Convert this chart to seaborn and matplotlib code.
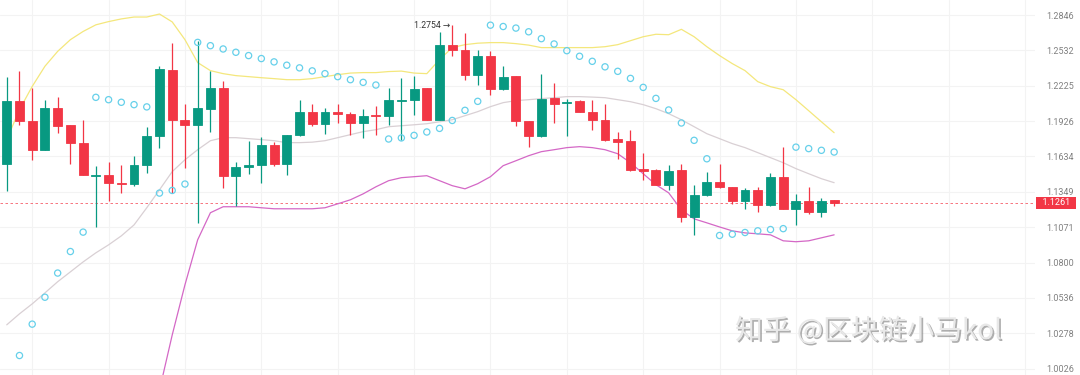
import numpy as np
import pandas as pd
import matplotlib
matplotlib.use('Agg')
import matplotlib.pyplot as plt
import matplotlib.patheffects as pe
from matplotlib.ticker import FixedLocator, FixedFormatter, NullLocator
import seaborn as sns

# daily candles
opens = [1.1573, 1.2098, 1.1929, 1.1687, 1.2036, 1.1890, 1.1744, 1.1474, 1.1481, 1.1419,
         1.1414, 1.1565, 1.1805, 1.2364, 1.1937, 1.1895, 1.2030, 1.2206, 1.1473, 1.1551,
         1.1561, 1.1730, 1.1575, 1.1807, 1.2005, 1.1901, 1.1999, 1.1985, 1.1914, 1.1977,
         1.1965, 1.2095, 1.2104, 1.2202, 1.1937, 1.2582, 1.2538, 1.2315, 1.2480, 1.2197,
         1.2306, 1.1923, 1.1805, 1.2117, 1.2078, 1.2092, 1.2002, 1.1937, 1.1777, 1.1758,
         1.1529, 1.1527, 1.1406, 1.1521, 1.1154, 1.1320, 1.1430, 1.1387, 1.1278, 1.1365,
         1.1241, 1.1465, 1.1213, 1.1280, 1.1191, 1.1283]
highs = [1.2301, 1.2349, 1.2206, 1.2100, 1.2126, 1.1890, 1.1931, 1.1553, 1.1586, 1.1567,
         1.1634, 1.1873, 1.2399, 1.2597, 1.2070, 1.2611, 1.2349, 1.2262, 1.1586, 1.1758,
         1.1794, 1.1750, 1.1812, 1.2106, 1.2073, 1.2036, 1.2073, 1.1999, 1.2028, 1.2050,
         1.2206, 1.2292, 1.2312, 1.2205, 1.2690, 1.2754, 1.2685, 1.2538, 1.2523, 1.2399,
         1.2308, 1.1925, 1.2327, 1.2248, 1.2115, 1.2106, 1.2106, 1.2073, 1.1832, 1.1848,
         1.1662, 1.1530, 1.1561, 1.1575, 1.1400, 1.1511, 1.1575, 1.1389, 1.1379, 1.1384,
         1.1500, 1.1711, 1.1333, 1.1384, 1.1299, 1.1285]
lows = [1.1352, 1.1895, 1.1602, 1.1685, 1.1827, 1.1575, 1.1481, 1.1076, 1.1280, 1.1339,
        1.1392, 1.1500, 1.1703, 1.1339, 1.1540, 1.1102, 1.1832, 1.1379, 1.1233, 1.1494,
        1.1419, 1.1553, 1.1486, 1.1805, 1.1881, 1.1819, 1.1910, 1.1813, 1.1786, 1.1807,
        1.1895, 1.1772, 1.1973, 1.1935, 1.1935, 1.2480, 1.2277, 1.2234, 1.2143, 1.2191,
        1.1887, 1.1708, 1.1794, 1.1910, 1.1799, 1.2000, 1.1854, 1.1758, 1.1613, 1.1513,
        1.1446, 1.1404, 1.1360, 1.1115, 1.1012, 1.1318, 1.1379, 1.1254, 1.1213, 1.1186,
        1.1233, 1.1211, 1.1089, 1.1173, 1.1150, 1.1238]
closes = [1.2092, 1.1923, 1.1683, 1.2036, 1.1887, 1.1741, 1.1481, 1.1482, 1.1416, 1.1408,
          1.1567, 1.1805, 1.2370, 1.1931, 1.1895, 1.2036, 1.2206, 1.1473, 1.1548, 1.1567,
          1.1730, 1.1575, 1.1810, 1.2005, 1.1901, 1.1999, 1.1988, 1.1914, 1.1971, 1.1965,
          1.2100, 1.2104, 1.2200, 1.1937, 1.2582, 1.2538, 1.2321, 1.2480, 1.2200, 1.2297,
          1.1926, 1.1805, 1.2115, 1.2073, 1.2089, 1.2002, 1.1931, 1.1772, 1.1749, 1.1527,
          1.1519, 1.1406, 1.1513, 1.1154, 1.1320, 1.1430, 1.1387, 1.1278, 1.1365, 1.1247,
          1.1465, 1.1213, 1.1280, 1.1191, 1.1280, 1.1261]

# bollinger bands
bb_upper = [1.1772, 1.2022, 1.2219, 1.2393, 1.2523, 1.2626, 1.2699, 1.2758, 1.2787, 1.2811,
            1.2828, 1.2828, 1.2855, 1.2784, 1.2626, 1.2425, 1.2355, 1.2329, 1.2312, 1.2303,
            1.2294, 1.2286, 1.2277, 1.2277, 1.2286, 1.2303, 1.2320, 1.2334, 1.2338, 1.2338,
            1.2347, 1.2351, 1.2334, 1.2329, 1.2451, 1.2556, 1.2582, 1.2595, 1.2600, 1.2600,
            1.2591, 1.2578, 1.2556, 1.2556, 1.2556, 1.2556, 1.2556, 1.2564, 1.2582, 1.2617,
            1.2652, 1.2674, 1.2670, 1.2718, 1.2652, 1.2564, 1.2486, 1.2416, 1.2355, 1.2260,
            1.2217, 1.2191, 1.2106, 1.2013, 1.1920, 1.1829]
bb_mid = [1.0339, 1.0419, 1.0492, 1.0573, 1.0656, 1.0730, 1.0805, 1.0874, 1.0935, 1.1004,
          1.1089, 1.1223, 1.1365, 1.1511, 1.1607, 1.1689, 1.1763, 1.1788, 1.1788, 1.1780,
          1.1772, 1.1763, 1.1747, 1.1747, 1.1751, 1.1763, 1.1788, 1.1813, 1.1838, 1.1854,
          1.1879, 1.1887, 1.1895, 1.1904, 1.1920, 1.1937, 1.1971, 1.2005, 1.2047, 1.2081,
          1.2098, 1.2106, 1.2115, 1.2123, 1.2132, 1.2132, 1.2128, 1.2123, 1.2106, 1.2089,
          1.2064, 1.2030, 1.1988, 1.1937, 1.1879, 1.1821, 1.1780, 1.1739, 1.1706, 1.1665,
          1.1624, 1.1583, 1.1535, 1.1494, 1.1454, 1.1422]
bb_lower = [np.nan] * 12 + [
    0.9877, 1.0266, 1.0633, 1.0974, 1.1184, 1.1231, 1.1231, 1.1231,
    1.1223, 1.1215, 1.1215, 1.1215, 1.1215, 1.1223, 1.1254, 1.1286, 1.1333, 1.1389,
    1.1438, 1.1462, 1.1470, 1.1478, 1.1438, 1.1398, 1.1373, 1.1414, 1.1470, 1.1559,
    1.1599, 1.1640, 1.1673, 1.1689, 1.1706, 1.1714, 1.1706, 1.1689, 1.1656, 1.1583,
    1.1494, 1.1406, 1.1341, 1.1207, 1.1136, 1.1105, 1.1073, 1.1043, 1.1027, 1.1020,
    1.1012, 1.0966, 1.0959, 1.0966, 1.0989, 1.1012]

# parabolic SAR
sar = [np.nan, 1.0119, 1.0344, 1.0541, 1.0721, 1.0884, 1.1033, 1.2126, 1.2106, 1.2084,
       1.2064, 1.2045, 1.1339, 1.1360, 1.1411, 1.2602, 1.2573, 1.2544, 1.2515, 1.2486,
       1.2460, 1.2431, 1.2402, 1.2379, 1.2353, 1.2329, 1.2303, 1.2277, 1.2254, 1.2231,
       1.1777, 1.1786, 1.1807, 1.1835, 1.1865, 1.1931, 1.2016, 1.2092, 1.2755, 1.2743,
       1.2729, 1.2696, 1.2635, 1.2588, 1.2529, 1.2480, 1.2436, 1.2388, 1.2349, 1.2288,
       1.2211, 1.2117, 1.2019, 1.1910, 1.1766, 1.1615, 1.1007, 1.1017, 1.1030, 1.1043,
       1.1053, 1.1060, 1.1710, 1.1698, 1.1684, 1.1670]

y_ticks = [1.0026, 1.0278, 1.0536, 1.0800, 1.1071, 1.1349, 1.1634, 1.1926, 1.2225, 1.2532, 1.2846]
y_labels = ['1.0026', '1.0278', '1.0536', '1.0800', '1.1071', '1.1349', '1.1634', '1.1926',
            '1.2225', '1.2532', '1.2846']
last_price = 1.1261
peak_price = 1.2754
peak_idx = 35
watermark = '知乎 @区块链小马kol'

df = pd.DataFrame({'open': opens, 'high': highs, 'low': lows, 'close': closes,
                   'upper': bb_upper, 'mid': bb_mid, 'lower': bb_lower, 'sar': sar})
df['t'] = np.arange(len(df))

green, red = '#089981', '#f23645'

sns.set_style('white')
plt.rcParams['font.family'] = ['Roboto', 'DejaVu Sans']

fig = plt.figure(figsize=(10.8, 3.75), dpi=100)
ax = fig.add_axes([0, 0, 1035 / 1080, 1])
ax.set_yscale('log')

# candles
cols = np.where(df['close'] >= df['open'], green, red)
ax.vlines(df['t'], df['low'], df['high'], colors=cols, linewidth=0.9, zorder=3)
lo = df[['open', 'close']].min(axis=1)
hi = df[['open', 'close']].max(axis=1)
ax.bar(df['t'], hi - lo, bottom=lo, width=0.7, color=cols, edgecolor=cols,
       linewidth=0.6, zorder=4)

# bands
sns.lineplot(data=df, x='t', y='upper', ax=ax, color='#f4e77c', linewidth=0.9,
             estimator=None, errorbar=None, zorder=2)
sns.lineplot(data=df, x='t', y='mid', ax=ax, color='#d9d0d4', linewidth=0.9,
             estimator=None, errorbar=None, zorder=2)
sns.lineplot(data=df, x='t', y='lower', ax=ax, color='#d468c6', linewidth=0.9,
             estimator=None, errorbar=None, zorder=2)

# SAR dots
sns.scatterplot(data=df, x='t', y='sar', ax=ax, marker='o', s=20, facecolor='none',
                edgecolor='#66d0ea', linewidth=0.9, zorder=5)

ax.axhline(last_price, color=red, linewidth=0.6, linestyle=(0, (3, 3)), alpha=0.8, zorder=1)

ax.set_xlim(-0.53, 80.78)
ax.set_ylim(0.99818, 1.2982)
ax.set_xlabel('')
ax.set_ylabel('')

ax.xaxis.set_major_locator(FixedLocator(list(range(2, 81, 6))))
ax.yaxis.set_major_locator(FixedLocator(y_ticks))
ax.yaxis.set_major_formatter(FixedFormatter(y_labels))
ax.yaxis.set_minor_locator(NullLocator())
ax.yaxis.tick_right()
ax.tick_params(axis='x', length=0, labelbottom=False)
ax.tick_params(axis='y', length=0, pad=8, labelsize=6.5, labelcolor='#808080')
ax.grid(True, color='#f3f3f3', linewidth=0.8)
ax.set_axisbelow(True)
for s in ax.spines.values():
    s.set_visible(False)

# last price tag
ax.text(1056 / 1035, last_price, '  %.4f  ' % last_price, transform=ax.get_yaxis_transform(),
        ha='center', va='center', fontsize=6.5, color='white', clip_on=False,
        bbox=dict(boxstyle='square,pad=0.2', fc=red, ec='none'))

# high marker
ax.text(peak_idx - 0.16, peak_price, '%.4f →' % peak_price, ha='right', va='center',
        fontsize=6.3, color='#333333')

fig.text(735 / 1080, 1 - 331 / 375, watermark, fontsize=20,
         family=['Noto Sans CJK SC', 'DejaVu Sans'], color='#e8e8e8', ha='left', va='center',
         path_effects=[pe.withSimplePatchShadow(offset=(1.2, -1.2), shadow_rgbFace='#8c8c8c', alpha=0.7)])

fig.savefig('out.png', dpi=100)
